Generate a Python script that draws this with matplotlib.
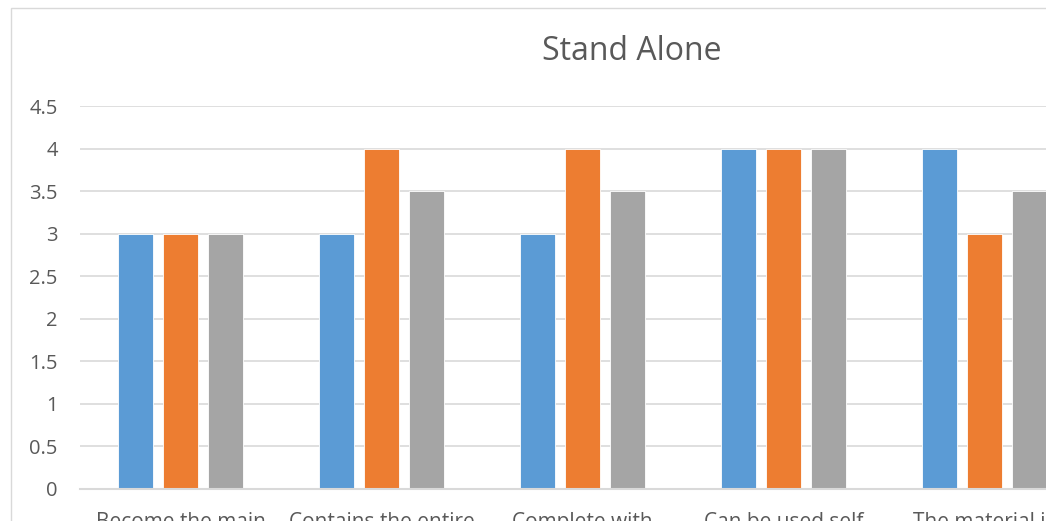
import numpy as np
import matplotlib
matplotlib.use("Agg")
import matplotlib.pyplot as plt
from matplotlib.patches import Rectangle

# values
categories = ["Become the main", "Contains the entire", "Complete with",
              "Can be used self", "The material is"]
series_a = [3, 3, 3, 4, 4]
series_b = [3, 4, 4, 4, 3]
series_c = [3, 3.5, 3.5, 4, 3.5]
yticks = [0, 0.5, 1, 1.5, 2, 2.5, 3, 3.5, 4, 4.5]

colors = ["#5B9BD5", "#ED7D31", "#A5A5A5"]
text_col = "#595959"
grid_col = "#D9D9D9"

plt.rcParams["font.family"] = ["Open Sans", "DejaVu Sans"]

W, H = 1046, 524
fig = plt.figure(figsize=(W / 100, H / 100), dpi=100)

# chart frame (runs off the right and bottom edges like the crop)
fig.patches.append(Rectangle((10.5 / W, -0.1), 1.2, (H - 7.5) / H + 0.1,
                             transform=fig.transFigure, fill=False,
                             edgecolor=grid_col, linewidth=1))

# plot area in pixels: x 80 -> 1085, y 0 at 489, 4.5 at 106
ax = fig.add_axes([80 / W, (H - 489) / H, 1005 / W, (489 - 106) / H])
ax.set_xlim(-0.5, 4.5)
ax.set_ylim(0, 4.5)

x = np.arange(len(categories))
off = 0.224
bw = 0.174
for i, vals in enumerate([series_a, series_b, series_c]):
    ax.bar(x + (i - 1) * off, vals, width=bw, color=colors[i],
           edgecolor="white", linewidth=0.6, zorder=3)

ax.set_yticks(yticks)
ax.set_yticklabels([f"{t:g}" for t in yticks])
ax.yaxis.grid(True, color=grid_col, linewidth=1.2, zorder=0)
ax.set_axisbelow(True)
for s in ["left", "right", "top"]:
    ax.spines[s].set_visible(False)
ax.spines["bottom"].set_color(grid_col)
ax.spines["bottom"].set_linewidth(1.5)
ax.spines["bottom"].set_zorder(4)

ax.tick_params(axis="y", length=0, pad=16, labelsize=14.5, labelcolor=text_col)
ax.set_xticks(x)
ax.set_xticklabels(categories)
ax.tick_params(axis="x", length=0, pad=16.5, labelsize=15, labelcolor=text_col)

fig.text(632 / W, (H - 51) / H, "Stand Alone", ha="center", va="center",
         fontsize=23, color=text_col)

# the source crop ends in a thin white strip
fig.patches.append(Rectangle((0, 0), 1, 3 / H, transform=fig.transFigure,
                             facecolor="white", edgecolor="none", zorder=10))

fig.savefig("out.png", dpi=100)
